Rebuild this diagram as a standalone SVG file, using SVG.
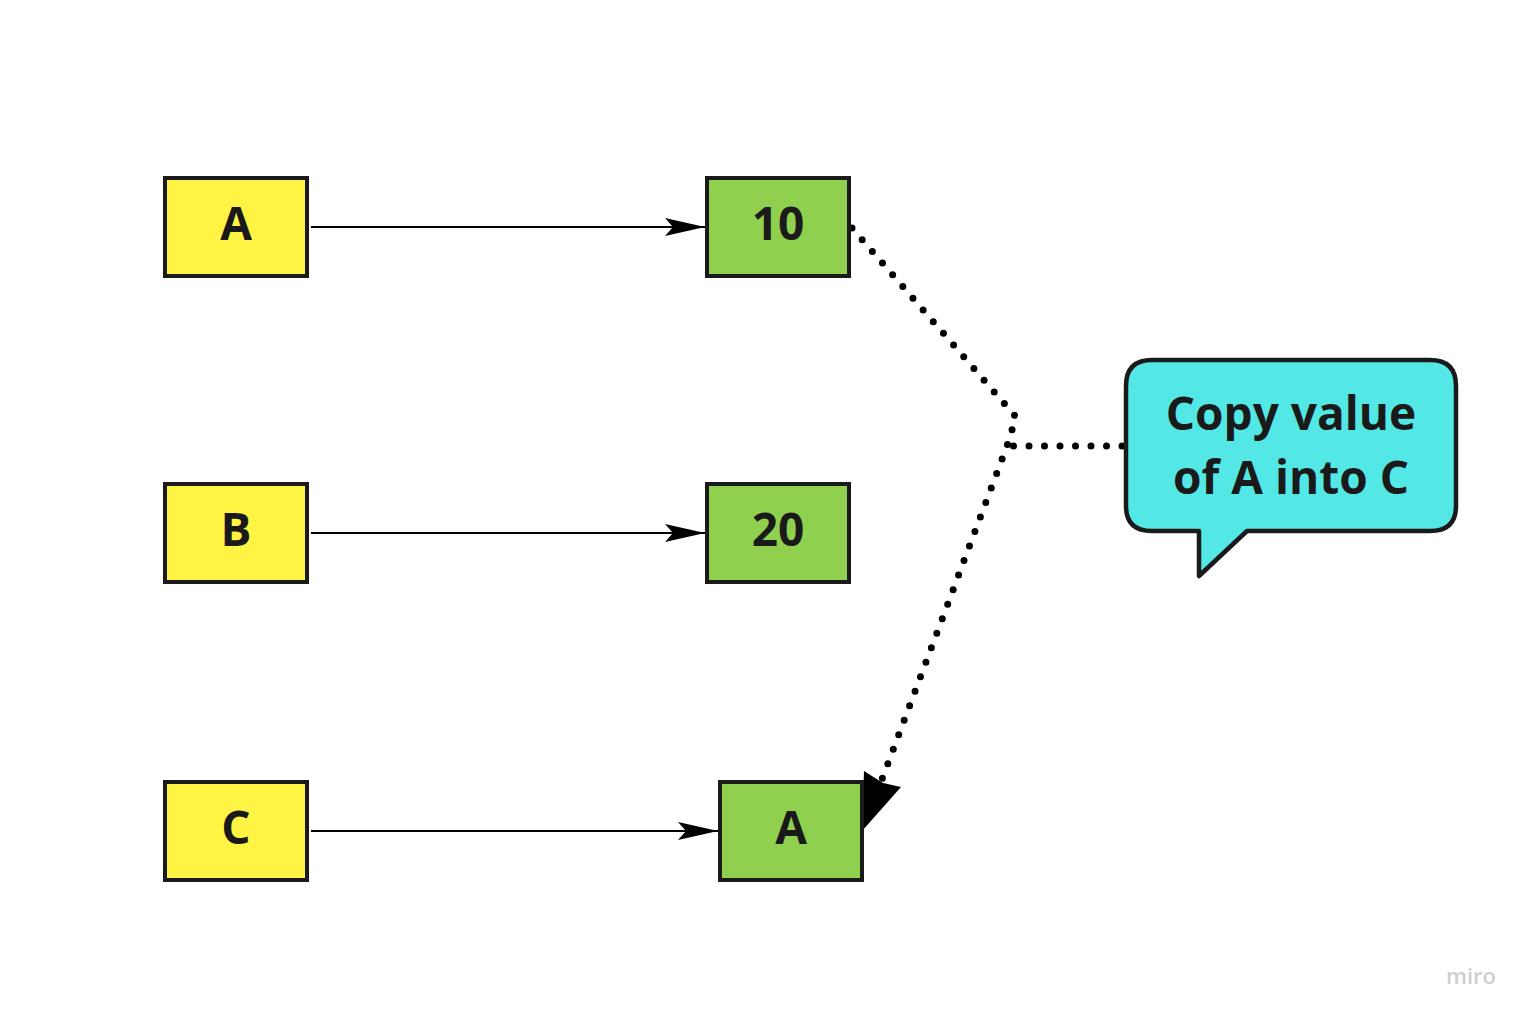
<svg xmlns="http://www.w3.org/2000/svg" width="1530" height="1020" viewBox="0 0 1530 1020">
<defs>
<style>
.y{fill:#FFF443;stroke:#1a1a1a;stroke-width:4}
.g{fill:#8FD14F;stroke:#1a1a1a;stroke-width:4}
.t{font-family:"Open Sans","Noto Sans",sans-serif;font-weight:bold;font-size:46px;fill:#1a1a1a;text-anchor:middle}
.ln{stroke:#000;stroke-width:2;fill:none}
.dot{stroke:#000;stroke-width:7;fill:none;stroke-linecap:round;stroke-dasharray:0 15.5}
</style>
<marker id="ah" viewBox="0 0 40 18" refX="40" refY="9" markerWidth="40" markerHeight="18" markerUnits="userSpaceOnUse" orient="auto">
<path d="M0,0 L40,9 L0,18 L8,9 Z" fill="#000"/>
</marker>
</defs>
<rect width="1530" height="1020" fill="#fff"/>
<g id="connectors">
<line class="ln" x1="311" y1="227" x2="705" y2="227" marker-end="url(#ah)"/>
<line class="ln" x1="311" y1="533" x2="705" y2="533" marker-end="url(#ah)"/>
<line class="ln" x1="311" y1="831" x2="718" y2="831" marker-end="url(#ah)"/>
<path class="dot" d="M852,228 L1016,417 L1007,446 L881,782"/>
<path class="dot" d="M1122,446 L1009,446"/>
<polygon points="864,771 883,783 901,787 862,831" fill="#000"/>
</g>
<g id="nodeA"><rect class="y" x="165" y="178" width="142" height="98"/><text class="t" x="236" y="240">A</text></g>
<g id="nodeB"><rect class="y" x="165" y="484" width="142" height="98"/><text class="t" x="236" y="546">B</text></g>
<g id="nodeC"><rect class="y" x="165" y="782" width="142" height="98"/><text class="t" x="236" y="844">C</text></g>
<g id="val10"><rect class="g" x="707" y="178" width="142" height="98"/><text class="t" x="778" y="240">10</text></g>
<g id="val20"><rect class="g" x="707" y="484" width="142" height="98"/><text class="t" x="778" y="546">20</text></g>
<g id="valA"><rect class="g" x="720" y="782" width="142" height="98"/><text class="t" x="791" y="844">A</text></g>
<g id="callout">
<path d="M1152,360 H1430 Q1456,360 1456,386 V506 Q1456,531 1430,531 H1247 L1199,576 V531 H1152 Q1126,531 1126,506 V386 Q1126,360 1152,360 Z" fill="#53E8E6" stroke="#1a1a1a" stroke-width="4.5" stroke-linejoin="round"/>
<text class="t" x="1291" y="430">Copy value</text>
<text class="t" x="1291" y="494">of A into C</text>
</g>
<text x="1471" y="984" font-family="Open Sans, sans-serif" font-size="22" fill="#cfcfcf" text-anchor="middle" font-weight="600">miro</text>
</svg>
